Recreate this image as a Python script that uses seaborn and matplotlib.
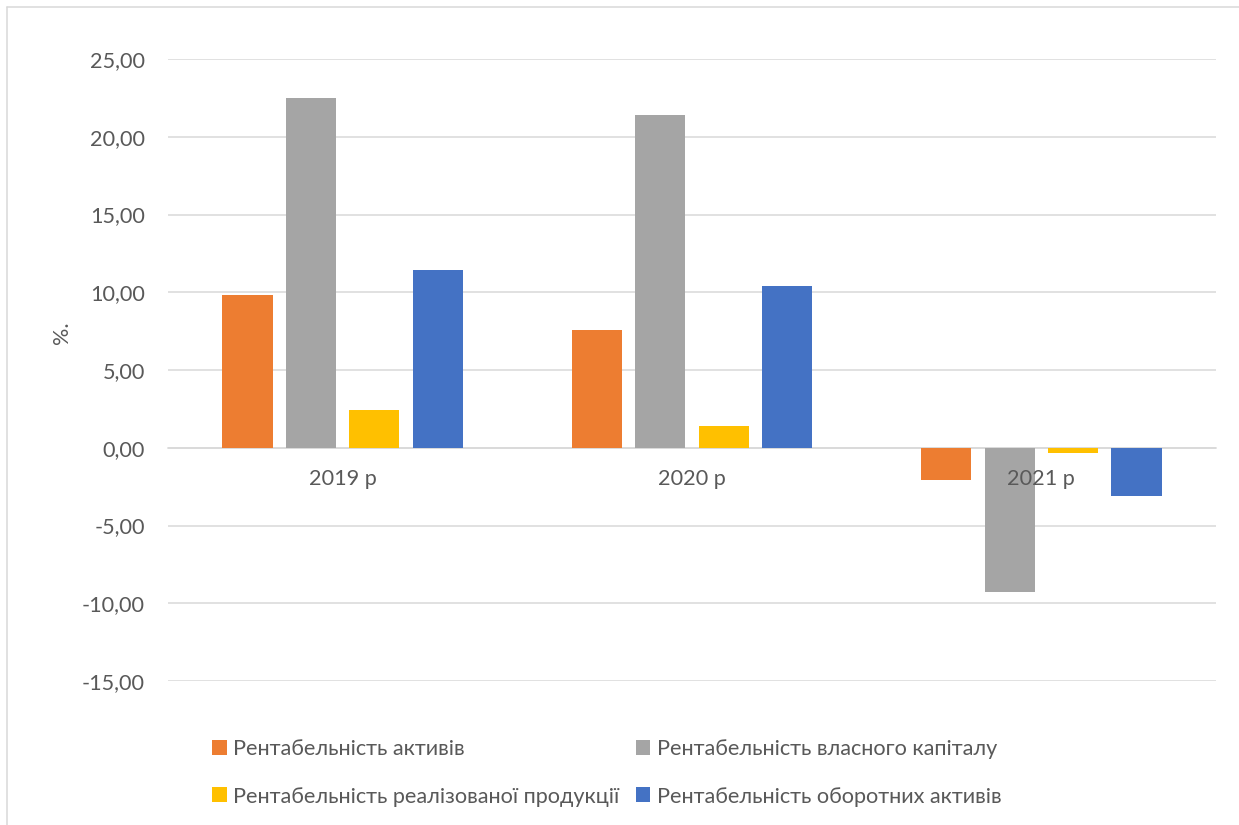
import matplotlib
matplotlib.use("Agg")
import matplotlib.pyplot as plt
from matplotlib.ticker import FuncFormatter, MultipleLocator
from matplotlib.lines import Line2D
import pandas as pd
import seaborn as sns

# Chart data
years = ["2019 р", "2020 р", "2021 р"]
series_names = [
    "Рентабельність активів",
    "Рентабельність власного капіталу",
    "Рентабельність реалізованої продукції",
    "Рентабельність оборотних активів",
]
assets_return = [9.8, 7.6, -2.1]
equity_return = [22.5, 21.4, -9.3]
sales_return = [2.4, 1.4, -0.35]
current_assets_return = [11.4, 10.4, -3.1]
series_colors = ["#ED7D31", "#A5A5A5", "#FFC000", "#4472C4"]

rows = []
for name, vals in zip(series_names,
                      [assets_return, equity_return, sales_return, current_assets_return]):
    for yr, v in zip(years, vals):
        rows.append({"year": yr, "series": name, "value": v})
df = pd.DataFrame(rows)

sns.set_theme(style="white")
plt.rcParams["font.family"] = ["Lato", "DejaVu Sans"]
text_color = "#595959"
grid_color = "#D9D9D9"
fs = 15.6

fig = plt.figure(figsize=(12.39, 8.25), dpi=100)
W, H = 1239, 825
ax = fig.add_axes([168 / W, 1 - 681 / H, 1048 / W, 622 / H])

sns.barplot(data=df, x="year", y="value", hue="series", hue_order=series_names,
            order=years, palette=series_colors, width=0.727, gap=0.21,
            errorbar=None, linewidth=0, saturation=1, ax=ax)

ax.set_ylim(-15, 25)
ax.yaxis.set_major_locator(MultipleLocator(5))
ax.yaxis.set_major_formatter(FuncFormatter(lambda v, p: f"{v:.2f}".replace(".", ",")))
ax.grid(axis="y", color=grid_color, linewidth=1.1)
ax.set_axisbelow(True)
# category labels sit on top of the bars
ax.xaxis.set_zorder(3)

for side in ["left", "right", "top"]:
    ax.spines[side].set_visible(False)
ax.spines["bottom"].set_position(("data", 0))
ax.spines["bottom"].set_color(grid_color)
ax.spines["bottom"].set_linewidth(1.1)
ax.spines["bottom"].set_zorder(0.6)

ax.tick_params(axis="y", length=0, pad=16.5, labelsize=fs, labelcolor=text_color)
ax.tick_params(axis="x", length=0, pad=15, labelsize=fs, labelcolor=text_color)
ax.set_xlabel("")
ax.set_ylabel("%.", fontsize=fs, color=text_color)
ax.yaxis.set_label_coords(-0.092, 0.56)

# Legend below the plot, filled row by row
handles, labels = ax.get_legend_handles_labels()
ax.get_legend().remove()
order = [0, 2, 1, 3]
fig.legend([handles[i] for i in order], [labels[i] for i in order],
           ncol=2, loc="upper left", bbox_to_anchor=(212 / W, 1 - 739 / H),
           frameon=False, fontsize=fs, labelcolor=text_color,
           handlelength=0.68, handleheight=0.68, handletextpad=0.3,
           columnspacing=0.75, labelspacing=1.27, borderpad=0, borderaxespad=0)

# Chart area border (left and top edges)
x0, y0 = 7 / W, 1 - 7 / H
fig.add_artist(Line2D([x0, x0], [0, y0], transform=fig.transFigure,
                      color=grid_color, linewidth=1.1))
fig.add_artist(Line2D([x0, 1], [y0, y0], transform=fig.transFigure,
                      color=grid_color, linewidth=1.1))

fig.savefig("out.png", dpi=100)
